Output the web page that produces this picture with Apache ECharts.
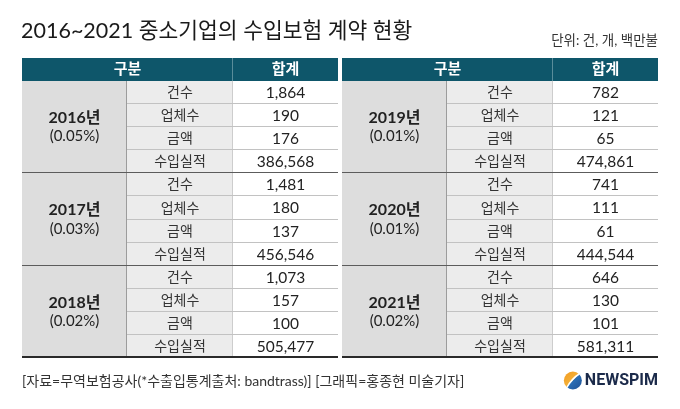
<!DOCTYPE html>
<html>
<head>
<meta charset="utf-8">
<script src="https://cdn.jsdelivr.net/npm/echarts@6/dist/echarts.min.js"></script>
<style>
  html, body { margin: 0; padding: 0; background: #fff; }
  #chart { width: 680px; height: 409px; }
</style>
</head>
<body>
<div id="chart"></div>
<script>
// 표 데이터
const headers = ["구분", "합계"];
const years = ["2016년", "2017년", "2018년", "2019년", "2020년", "2021년"];
const shares = ["(0.05%)", "(0.03%)", "(0.02%)", "(0.01%)", "(0.01%)", "(0.02%)"];
const items = ["건수", "업체수", "금액", "수입실적"];
const counts = [1864, 1481, 1073, 782, 741, 646];
const firms = [190, 180, 157, 121, 111, 130];
const amounts = [176, 137, 100, 65, 61, 101];
const imports = [386568, 456546, 505477, 474861, 444544, 581311];

const FONT = "Lato, 'Noto Sans CJK KR', sans-serif";
const GAP = 0.03; // 좌우 표 사이 간격 (열 단위)

// 셀 목록: [x0, x1, y0, y1, 종류, 텍스트, 그룹끝(0/1/2)]
const cells = [];
for (let t = 0; t < 2; t++) {
  const off = t * (3 + GAP);
  cells.push([off, off + 2, 0, 1, "head", headers[0], 0]);
  cells.push([off + 2, off + 3, 0, 1, "head", headers[1], 0]);
  for (let g = 0; g < 3; g++) {
    const k = t * 3 + g;
    const r0 = 1 + g * 4;
    const end = g === 2 ? 2 : 1;
    cells.push([off, off + 1, r0, r0 + 4, "year", "{y|" + years[k] + "}\n{p|" + shares[k] + "}", end]);
    const vals = [counts[k], firms[k], amounts[k], imports[k]];
    for (let i = 0; i < 4; i++) {
      const last = i === 3 ? end : 0;
      cells.push([off + 1, off + 2, r0 + i, r0 + i + 1, "item", items[i], last]);
      cells.push([off + 2, off + 3, r0 + i, r0 + i + 1, "val", vals[i].toLocaleString("en-US"), last]);
    }
  }
}

const fills = { head: "#0e566a", year: "#dddddd", item: "#ececec", val: "#ffffff" };
const textStyles = {
  head: { fill: "#fff", fontSize: 15, fontWeight: "bold" },
  item: { fill: "#333", fontSize: 14 },
  val: { fill: "#222", fontSize: 15.5 },
  year: {
    fill: "#222",
    rich: {
      y: { fontFamily: FONT, fontSize: 16, fontWeight: "bold", color: "#1e1e1e", lineHeight: 19 },
      p: { fontFamily: FONT, fontSize: 15, color: "#333", lineHeight: 19 },
    },
  },
};

function hLine(x1, x2, y, color, width) {
  return { type: "line", shape: { x1: x1, y1: y, x2: x2, y2: y }, style: { stroke: color, lineWidth: width } };
}
function vLine(x, y1, y2, color) {
  return { type: "line", shape: { x1: x, y1: y1, x2: x, y2: y2 }, style: { stroke: color, lineWidth: 1 } };
}

function renderCell(params, api) {
  const c = cells[params.dataIndex];
  const tl = api.coord([api.value(0), api.value(2)]);
  const br = api.coord([api.value(1), api.value(3)]);
  const x = Math.round(tl[0]), y = Math.round(tl[1]);
  const w = Math.round(br[0]) - x, h = Math.round(br[1]) - y;
  const kind = c[4];
  const children = [{ type: "rect", shape: { x: x, y: y, width: w, height: h }, style: { fill: fills[kind] } }];

  // 세로선
  if (kind === "year") children.push(vLine(x + w - 0.5, y, y + h, "#9c9c9c"));
  if (kind === "item") children.push(vLine(x + w - 0.5, y, y + h, "#cdcdcd"));
  if (kind === "head" && c[5] === headers[0]) children.push(vLine(x + w - 0.5, y, y + h, "#5a8d9a"));

  // 가로선
  if (kind !== "head") {
    if (c[6] === 2) children.push(hLine(x, x + w, y + h - 1, "#2a2a2a", 2));
    else if (c[6] === 1) children.push(hLine(x, x + w, y + h - 0.5, "#5c5c5c", 1));
    else if (kind !== "year") children.push(hLine(x, x + w, y + h - 0.5, "#c2c2c2", 1));
  }

  const ts = Object.assign({ text: c[5], align: "center", verticalAlign: "middle", fontFamily: FONT }, textStyles[kind]);
  children.push({ type: "text", x: x + w / 2, y: y + h / 2, style: ts });
  return { type: "group", children: children };
}

const chart = echarts.init(document.getElementById("chart"), null, { renderer: "canvas" });

chart.setOption({
  backgroundColor: "#fff",
  animation: false,
  title: [
    {
      text: "2016~2021 중소기업의 수입보험 계약 현황",
      left: 21, top: 20, padding: 0,
      textStyle: { fontFamily: FONT, fontSize: 21.5, fontWeight: "normal", color: "#1a1a1a" },
    },
    {
      text: "단위: 건, 개, 백만불",
      right: 22, top: 34, padding: 0,
      textStyle: { fontFamily: FONT, fontSize: 13.5, fontWeight: "normal", color: "#333" },
    },
    {
      text: "[자료=무역보험공사(*수출입통계출처: bandtrass)] [그래픽=홍종현 미술기자]",
      left: 22, top: 374, padding: 0,
      textStyle: { fontFamily: FONT, fontSize: 14, fontWeight: "normal", color: "#333" },
    },
  ],
  grid: { left: 22, right: 22, top: 58, bottom: 51 },
  xAxis: { type: "value", min: 0, max: 6 + GAP, show: false },
  yAxis: { type: "value", min: 0, max: 13, inverse: true, show: false },
  series: [
    {
      type: "custom",
      renderItem: renderCell,
      encode: { x: [0, 1], y: [2, 3] },
      data: cells.map((c) => c.slice(0, 4)),
      silent: true,
    },
  ],
  graphic: [
    {
      type: "group",
      right: 22,
      top: 371,
      children: [
        {
          type: "circle",
          shape: { cx: 9, cy: 10, r: 9 },
          style: {
            fill: new echarts.graphic.LinearGradient(0, 0, 1, 1, [
              { offset: 0, color: "#f39a1e" },
              { offset: 0.5, color: "#f3b13a" },
              { offset: 0.5, color: "#2b6fb6" },
              { offset: 1, color: "#1d4f93" },
            ]),
          },
        },
        {
          type: "bezierCurve",
          shape: { x1: 3, y1: 17, x2: 16, y2: 3, cpx1: 8, cpy1: 8 },
          style: { stroke: "#fff", lineWidth: 1.5, fill: null },
        },
        {
          type: "text",
          x: 21,
          y: 10,
          style: {
            text: "NEWSPIM",
            fontFamily: "Roboto, 'DejaVu Sans', sans-serif",
            fontSize: 16,
            fontWeight: "bold",
            fill: "#1b2a4a",
            verticalAlign: "middle",
          },
        },
      ],
    },
  ],
});
</script>
</body>
</html>
